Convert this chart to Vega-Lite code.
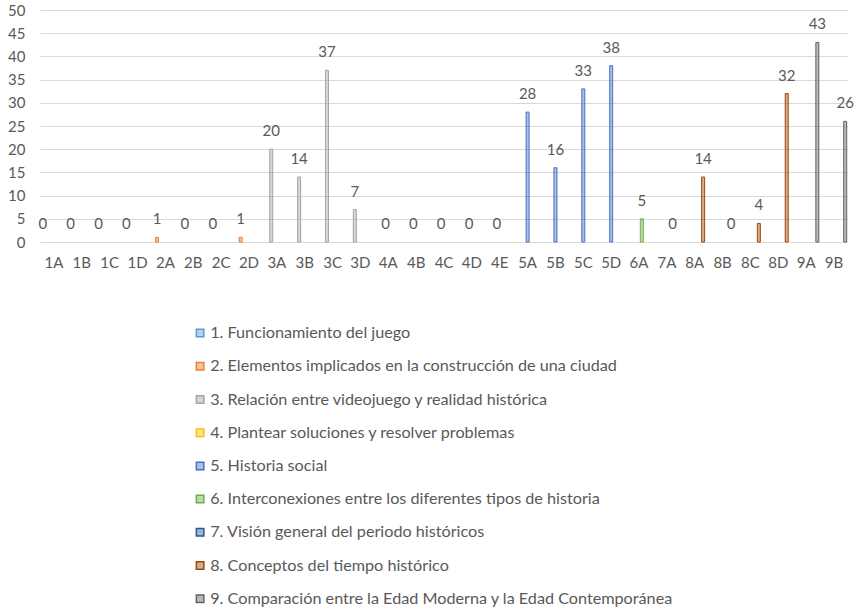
{
  "$schema": "https://vega.github.io/schema/vega-lite/v6.json",
  "width": 808,
  "height": 232,
  "autosize": {"type": "none"},
  "padding": {"left": 40, "top": 10, "right": 8, "bottom": 368},
  "background": "white",
  "config": {
    "font": "Lato",
    "view": {"stroke": null},
    "axis": {"labelColor": "#595959", "labelFont": "Lato"},
    "legend": {"labelFont": "Lato"}
  },
  "data": {
    "values": [
      {"cat": "1A", "value": 0, "series": "1. Funcionamiento del juego"},
      {"cat": "1B", "value": 0, "series": "1. Funcionamiento del juego"},
      {"cat": "1C", "value": 0, "series": "1. Funcionamiento del juego"},
      {"cat": "1D", "value": 0, "series": "1. Funcionamiento del juego"},
      {"cat": "2A", "value": 1, "series": "2. Elementos implicados en la construcción de una ciudad"},
      {"cat": "2B", "value": 0, "series": "2. Elementos implicados en la construcción de una ciudad"},
      {"cat": "2C", "value": 0, "series": "2. Elementos implicados en la construcción de una ciudad"},
      {"cat": "2D", "value": 1, "series": "2. Elementos implicados en la construcción de una ciudad"},
      {"cat": "3A", "value": 20, "series": "3. Relación entre videojuego y realidad histórica"},
      {"cat": "3B", "value": 14, "series": "3. Relación entre videojuego y realidad histórica"},
      {"cat": "3C", "value": 37, "series": "3. Relación entre videojuego y realidad histórica"},
      {"cat": "3D", "value": 7, "series": "3. Relación entre videojuego y realidad histórica"},
      {"cat": "4A", "value": 0, "series": "4. Plantear soluciones y resolver problemas"},
      {"cat": "4B", "value": 0, "series": "4. Plantear soluciones y resolver problemas"},
      {"cat": "4C", "value": 0, "series": "4. Plantear soluciones y resolver problemas"},
      {"cat": "4D", "value": 0, "series": "4. Plantear soluciones y resolver problemas"},
      {"cat": "4E", "value": 0, "series": "4. Plantear soluciones y resolver problemas"},
      {"cat": "5A", "value": 28, "series": "5. Historia social"},
      {"cat": "5B", "value": 16, "series": "5. Historia social"},
      {"cat": "5C", "value": 33, "series": "5. Historia social"},
      {"cat": "5D", "value": 38, "series": "5. Historia social"},
      {"cat": "6A", "value": 5, "series": "6. Interconexiones entre los diferentes tipos de historia"},
      {"cat": "7A", "value": 0, "series": "7. Visión general del periodo históricos"},
      {"cat": "8A", "value": 14, "series": "8. Conceptos del tiempo histórico"},
      {"cat": "8B", "value": 0, "series": "8. Conceptos del tiempo histórico"},
      {"cat": "8C", "value": 4, "series": "8. Conceptos del tiempo histórico"},
      {"cat": "8D", "value": 32, "series": "8. Conceptos del tiempo histórico"},
      {"cat": "9A", "value": 43, "series": "9. Comparación entre la Edad Moderna y la Edad Contemporánea"},
      {"cat": "9B", "value": 26, "series": "9. Comparación entre la Edad Moderna y la Edad Contemporánea"}
    ]
  },
  "encoding": {
    "x": {
      "field": "cat", "type": "nominal",
      "scale": {"domain": ["1A","1B","1C","1D","2A","2B","2C","2D","3A","3B","3C","3D","4A","4B","4C","4D","4E","5A","5B","5C","5D","6A","7A","8A","8B","8C","8D","9A","9B"], "paddingInner": 0.1, "paddingOuter": 0.05},
      "axis": {"title": null, "labelAngle": 0, "labelFontSize": 15, "labelPadding": 13, "ticks": false, "domain": false, "grid": false}
    },
    "xOffset": {
      "field": "series", "type": "nominal",
      "scale": {"domain": [
        "1. Funcionamiento del juego",
        "2. Elementos implicados en la construcción de una ciudad",
        "3. Relación entre videojuego y realidad histórica",
        "4. Plantear soluciones y resolver problemas",
        "5. Historia social",
        "6. Interconexiones entre los diferentes tipos de historia",
        "7. Visión general del periodo históricos",
        "8. Conceptos del tiempo histórico",
        "9. Comparación entre la Edad Moderna y la Edad Contemporánea"
      ], "paddingInner": 0, "paddingOuter": 0}
    },
    "y": {
      "field": "value", "type": "quantitative",
      "scale": {"domain": [0, 50], "nice": false},
      "axis": {"title": null, "values": [0,5,10,15,20,25,30,35,40,45,50], "labelFontSize": 15, "labelPadding": 15, "ticks": false, "domain": false, "gridColor": "#D9D9D9", "gridWidth": 1}
    }
  },
  "layer": [
    {
      "transform": [{"filter": "datum.value > 0"}],
      "mark": {"type": "bar", "fillOpacity": 0.45, "strokeWidth": 1, "width": 3},
      "encoding": {
        "color": {
          "field": "series", "type": "nominal",
          "scale": {
            "domain": [
              "1. Funcionamiento del juego",
              "2. Elementos implicados en la construcción de una ciudad",
              "3. Relación entre videojuego y realidad histórica",
              "4. Plantear soluciones y resolver problemas",
              "5. Historia social",
              "6. Interconexiones entre los diferentes tipos de historia",
              "7. Visión general del periodo históricos",
              "8. Conceptos del tiempo histórico",
              "9. Comparación entre la Edad Moderna y la Edad Contemporánea"
            ],
            "range": ["#5B9BD5", "#ED7D31", "#A5A5A5", "#FFC000", "#4472C4", "#70AD47", "#255E91", "#9E480E", "#636363"]
          },
          "legend": {
            "title": null, "orient": "none", "legendX": 152, "legendY": 315,
            "direction": "vertical", "symbolType": "square", "symbolSize": 56,
            "symbolStrokeWidth": 1.5, "symbolOpacity": 1,
            "labelFontSize": 16.2, "labelColor": "#595959", "labelOffset": 2,
            "rowPadding": 16.2, "labelLimit": 700, "padding": 0,
            "encode": {"symbols": {"update": {"fillOpacity": {"value": 0.45}}}}
          }
        },
        "stroke": {
          "field": "series", "type": "nominal",
          "scale": {
            "domain": [
              "1. Funcionamiento del juego",
              "2. Elementos implicados en la construcción de una ciudad",
              "3. Relación entre videojuego y realidad histórica",
              "4. Plantear soluciones y resolver problemas",
              "5. Historia social",
              "6. Interconexiones entre los diferentes tipos de historia",
              "7. Visión general del periodo históricos",
              "8. Conceptos del tiempo histórico",
              "9. Comparación entre la Edad Moderna y la Edad Contemporánea"
            ],
            "range": ["#5B9BD5", "#ED7D31", "#A5A5A5", "#FFC000", "#4472C4", "#70AD47", "#255E91", "#9E480E", "#636363"]
          },
          "legend": {
            "title": null, "orient": "none", "legendX": 152, "legendY": 315,
            "direction": "vertical", "symbolType": "square", "symbolSize": 56,
            "symbolStrokeWidth": 1.5, "symbolOpacity": 1,
            "labelFontSize": 16.2, "labelColor": "#595959", "labelOffset": 2,
            "rowPadding": 16.2, "labelLimit": 700, "padding": 0,
            "encode": {"symbols": {"update": {"fillOpacity": {"value": 0.45}}}}
          }
        }
      }
    },
    {
      "mark": {"type": "text", "baseline": "alphabetic", "dy": -13, "fontSize": 15, "color": "#595959"},
      "encoding": {"text": {"field": "value", "type": "quantitative"}}
    }
  ]
}
